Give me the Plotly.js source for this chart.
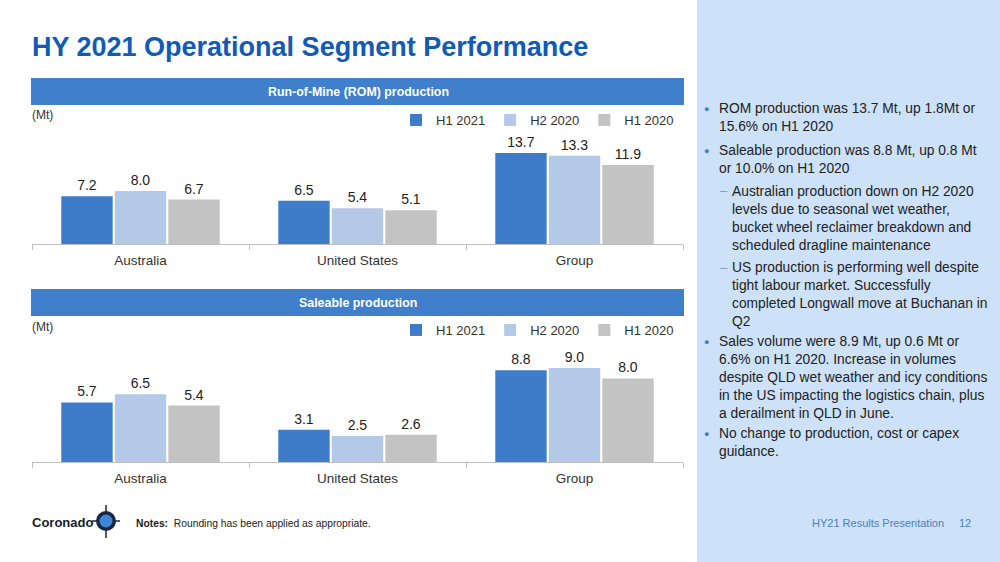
<!DOCTYPE html>
<html>
<head>
<meta charset="utf-8">
<script src="https://cdn.plot.ly/plotly-3.0.1.min.js"></script>
<style>
html,body{margin:0;padding:0;background:#fff;}
#chart{width:1000px;height:562px;}
</style>
</head>
<body>
<div id="chart"></div>
<script>
// ---------- data ----------
const categories = ['Australia', 'United States', 'Group'];
const seriesNames = ['H1 2021', 'H2 2020', 'H1 2020'];
const romH1_2021 = [7.2, 6.5, 13.7];
const romH2_2020 = [8.0, 5.4, 13.3];
const romH1_2020 = [6.7, 5.1, 11.9];
const saleH1_2021 = [5.7, 3.1, 8.8];
const saleH2_2020 = [6.5, 2.5, 9.0];
const saleH1_2020 = [5.4, 2.6, 8.0];

const slideTitle = 'HY 2021 Operational Segment Performance';
const romHeader = 'Run-of-Mine (ROM) production';
const saleHeader = 'Saleable production';
const unitLabel = '(Mt)';

// ---------- style ----------
const colors = ['#3e7cc9', '#b4c9e8', '#c3c3c3'];
const FONT = 'Liberation Sans, Arial, sans-serif';
const W = 1000, H = 562;
const px = x => x / W;
const py = y => 1 - y / H;

function barTrace(vals, i, xa, ya, leg) {
  return {
    type: 'bar', x: categories, y: vals, name: seriesNames[i],
    xaxis: xa, yaxis: ya, legend: leg,
    marker: {color: colors[i], line: {width: 0}},
    texttemplate: '%{y:.1f}', textposition: 'outside',
    textfont: {family: FONT, size: 14, color: '#222'},
    cliponaxis: false, hoverinfo: 'skip'
  };
}

const traces = [
  barTrace(romH1_2021, 0, 'x', 'y', 'legend'),
  barTrace(romH2_2020, 1, 'x', 'y', 'legend'),
  barTrace(romH1_2020, 2, 'x', 'y', 'legend'),
  barTrace(saleH1_2021, 0, 'x2', 'y2', 'legend2'),
  barTrace(saleH2_2020, 1, 'x2', 'y2', 'legend2'),
  barTrace(saleH1_2020, 2, 'x2', 'y2', 'legend2')
];

const xaxisBase = {
  type: 'category', showline: true, linecolor: '#bfbfbf', linewidth: 1,
  ticks: 'outside', tickson: 'boundaries', ticklen: 5, tickcolor: '#bfbfbf',
  ticklabelstandoff: 4,
  tickfont: {family: FONT, size: 13.5, color: '#333'},
  showgrid: false, zeroline: false, fixedrange: true
};
const yaxisBase = {
  showgrid: false, zeroline: false, showticklabels: false, ticks: '',
  showline: false, fixedrange: true
};

const legendBase = {
  orientation: 'h', xanchor: 'right', yanchor: 'middle',
  font: {family: FONT, size: 13, color: '#333'},
  bgcolor: 'rgba(0,0,0,0)',
  itemclick: false, itemdoubleclick: false,
  tracegroupgap: 0
};

// bullets text
const bulletBlocks = [
  {y: 110, sub: false, text: 'ROM production was 13.7 Mt, up 1.8Mt or<br>15.6% on H1 2020'},
  {y: 152, sub: false, text: 'Saleable production was 8.8 Mt, up 0.8 Mt<br>or 10.0% on H1 2020'},
  {y: 193, sub: true, text: 'Australian production down on H2 2020<br>levels due to seasonal wet weather,<br>bucket wheel reclaimer breakdown and<br>scheduled dragline maintenance'},
  {y: 269, sub: true, text: 'US production is performing well despite<br>tight labour market. Successfully<br>completed Longwall move at Buchanan in<br>Q2'},
  {y: 343, sub: false, text: 'Sales volume were 8.9 Mt, up 0.6 Mt or<br>6.6% on H1 2020. Increase in volumes<br>despite QLD wet weather and icy conditions<br>in the US impacting the logistics chain, plus<br>a derailment in QLD in June.'},
  {y: 435, sub: false, text: 'No change to production, cost or capex<br>guidance.'}
];

const annotations = [
  {text: '<b>' + slideTitle + '</b>', x: px(30), y: py(47), xanchor: 'left', yanchor: 'middle',
   font: {family: FONT, size: 27, color: '#0f5bb6'}},
  {text: '<b>' + romHeader + '</b>', x: px(358), y: py(92), xanchor: 'center', yanchor: 'middle',
   font: {family: FONT, size: 12.4, color: '#fff'}},
  {text: '<b>' + saleHeader + '</b>', x: px(358), y: py(303), xanchor: 'center', yanchor: 'middle',
   font: {family: FONT, size: 12.4, color: '#fff'}},
  {text: unitLabel, x: px(30), y: py(115), xanchor: 'left', yanchor: 'middle',
   font: {family: FONT, size: 12, color: '#333'}},
  {text: unitLabel, x: px(30), y: py(327), xanchor: 'left', yanchor: 'middle',
   font: {family: FONT, size: 12, color: '#333'}},
  {text: '<b>Coronado</b>', x: px(30), y: py(522), xanchor: 'left', yanchor: 'middle',
   font: {family: FONT, size: 13, color: '#1b1b2a'}},
  {text: '<b>Notes:</b>  Rounding has been applied as appropriate.', x: px(134), y: py(523), xanchor: 'left', yanchor: 'middle',
   font: {family: FONT, size: 10.3, color: '#222'}},
  {text: 'HY21 Results Presentation', x: px(810), y: py(523), xanchor: 'left', yanchor: 'middle',
   font: {family: FONT, size: 11, color: '#4c7fbf'}},
  {text: '12', x: px(957), y: py(523), xanchor: 'left', yanchor: 'middle',
   font: {family: FONT, size: 11, color: '#4c7fbf'}}
];

bulletBlocks.forEach(b => {
  const tx = b.sub ? 731 : 718;
  annotations.push({
    text: b.text, x: px(tx), y: py(b.y - 10), xanchor: 'left', yanchor: 'top', align: 'left',
    font: {family: FONT, size: 13.8, color: '#222'}, borderpad: 0
  });
  annotations.push({
    text: b.sub ? '–' : '●', x: px(b.sub ? 718 : 702), y: py(b.sub ? b.y - 2 : b.y - 1), xanchor: 'left', yanchor: 'middle',
    font: {family: FONT, size: b.sub ? 13 : 9, color: b.sub ? '#7a9cc9' : '#3e7cc9'}
  });
});
annotations.forEach(a => { a.xref = 'paper'; a.yref = 'paper'; a.showarrow = false; });

const shapes = [
  // right panel
  {type: 'rect', xref: 'paper', yref: 'paper', x0: px(697), x1: 1, y0: 0, y1: 1,
   fillcolor: '#cde1f9', line: {width: 0}, layer: 'below'},
  // header bars
  {type: 'rect', xref: 'paper', yref: 'paper', x0: px(31), x1: px(684), y0: py(105), y1: py(78),
   fillcolor: '#3f7fcc', line: {width: 0}, layer: 'below'},
  {type: 'rect', xref: 'paper', yref: 'paper', x0: px(31), x1: px(684), y0: py(316), y1: py(289),
   fillcolor: '#3f7fcc', line: {width: 0}, layer: 'below'},
  // logo icon
  {type: 'line', xref: 'paper', yref: 'paper', x0: px(106), x1: px(106), y0: py(505), y1: py(538),
   line: {color: '#1b2540', width: 1.5}},
  {type: 'line', xref: 'paper', yref: 'paper', x0: px(92), x1: px(120), y0: py(521), y1: py(521),
   line: {color: '#1b2540', width: 1.5}},
  {type: 'circle', xref: 'paper', yref: 'paper', x0: px(96), x1: px(116), y0: py(531), y1: py(511),
   fillcolor: '#1b2540', line: {width: 0}},
  {type: 'circle', xref: 'paper', yref: 'paper', x0: px(99.5), x1: px(112.5), y0: py(527.5), y1: py(514.5),
   fillcolor: '#3e86d6', line: {width: 0}}
];

const layout = {
  width: W, height: H,
  margin: {l: 0, r: 0, t: 0, b: 0},
  paper_bgcolor: '#ffffff', plot_bgcolor: 'rgba(0,0,0,0)',
  barmode: 'group', bargap: 0.26, bargroupgap: 0.04,
  showlegend: true,
  font: {family: FONT, color: '#333'},
  xaxis: Object.assign({}, xaxisBase, {domain: [px(32), px(683)], anchor: 'y'}),
  yaxis: Object.assign({}, yaxisBase, {domain: [py(244), py(124)], range: [0, 120 / 6.64], anchor: 'x'}),
  xaxis2: Object.assign({}, xaxisBase, {domain: [px(32), px(683)], anchor: 'y2'}),
  yaxis2: Object.assign({}, yaxisBase, {domain: [py(462), py(340)], range: [0, 122 / 10.44], anchor: 'x2'}),
  legend: Object.assign({}, legendBase, {x: px(679), y: py(120)}),
  legend2: Object.assign({}, legendBase, {x: px(679), y: py(330)}),
  annotations: annotations,
  shapes: shapes
};

Plotly.newPlot('chart', traces, layout, {displayModeBar: false, staticPlot: true});
</script>
</body>
</html>
